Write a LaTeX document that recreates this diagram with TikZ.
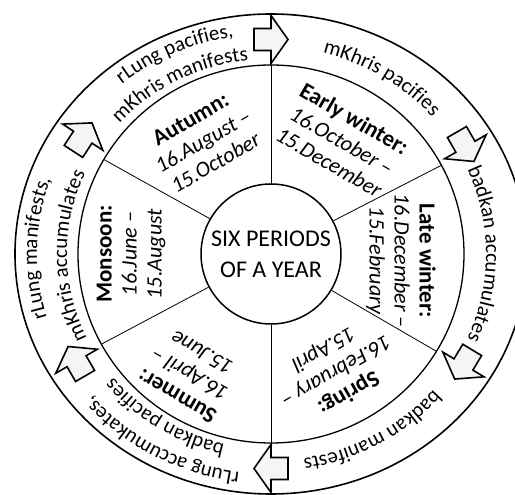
\documentclass[tikz,border=0pt]{standalone}
\usepackage{fontspec}
\setmainfont{Carlito}
\usetikzlibrary{decorations.text,calc}
\newcommand\ringfont{\fontsize{21}{25}\selectfont}
\newcommand\secfont{\fontsize{22}{25}\selectfont}
\newcommand\hd[1]{\textbf{\fontsize{23}{25}\selectfont #1}}
\begin{document}
\begin{tikzpicture}[x=1pt,y=1pt,
  spoke/.style={line width=0.8pt},
  arrowbox/.style={draw, line width=1.6pt, fill=gray!8, line join=miter},
  season/.style={align=center, font=\secfont, inner sep=0pt},
  core/.style={draw, circle, line width=1.5pt, minimum size=140pt, inner sep=0pt, align=center, font=\fontsize{24}{31}\selectfont},
  ringtext/.style={decorate, decoration={text along path, text align=center, text={#1}}}
]
\useasboundingbox (0,0) rectangle (515,495);
\coordinate (c) at (271,241);
\draw[line width=1.6pt] (c) ellipse [x radius=256, y radius=240];
\draw[line width=1.3pt] (c) ellipse [x radius=193, y radius=189];
\node[core] (core) at (c) {SIX PERIODS\\OF A YEAR};
\foreach \a/\n in {90/1,28/2,329/3,270/4,150/5,208.5/6} {
  \coordinate (m\n) at ([shift={(\a:193 and 189)}]c);
  \draw[spoke] (core.\a) -- (m\n);
}
% ring texts
\path[ringtext={|\ringfont|mKhris pacifies}] ([shift={(88.6:215 and 207)}]c) arc[start angle=88.6, end angle=28.6, x radius=215, y radius=207];
\path[ringtext={|\ringfont|badkan accumulates}] ([shift={(30:215 and 207)}]c) arc[start angle=30, end angle=-30, x radius=215, y radius=207];
\path[ringtext={|\ringfont|badkan manifests}] ([shift={(-31:215 and 207)}]c) arc[start angle=-31, end angle=-91, x radius=215, y radius=207];
\path[ringtext={|\ringfont|rLung accumukates,}] ([shift={(271:234 and 220)}]c) arc[start angle=271, end angle=211, x radius=234, y radius=220];
\path[ringtext={|\ringfont|badkan pacifies}] ([shift={(268:204 and 195)}]c) arc[start angle=268, end angle=208, x radius=204, y radius=195];
\path[ringtext={|\ringfont|rLung manifests,}] ([shift={(208.5:234 and 220)}]c) arc[start angle=208.5, end angle=148.5, x radius=234, y radius=220];
\path[ringtext={|\ringfont|mKhris accumulates}] ([shift={(210.5:204 and 195)}]c) arc[start angle=210.5, end angle=150.5, x radius=204, y radius=195];
\path[ringtext={|\ringfont|rLung pacifies,}] ([shift={(144.6:234 and 220)}]c) arc[start angle=144.6, end angle=84.6, x radius=234, y radius=220];
\path[ringtext={|\ringfont|mKhris manifests}] ([shift={(147.3:204 and 195)}]c) arc[start angle=147.3, end angle=87.3, x radius=204, y radius=195];
% seasons
\node[season, rotate=30] (autumn) at ([shift={(121:132)}]c) {\hd{Autumn:}\\\textit{16.August –}\\\textit{15.October}};
\node[season, rotate=-30] (earlywinter) at ([shift={(58:134)}]c) {\hd{Early winter:}\\\textit{16.October –}\\\textit{15.December}};
\node[season, rotate=-90] (latewinter) at ([shift={(-3:130)}]c) {\hd{Late winter:}\\\textit{16.December –}\\\textit{15.February}};
\node[season, rotate=-150] (spring) at ([shift={(-61:134)}]c) {\hd{Spring:}\\\textit{16.February –}\\\textit{15.April}};
\node[season, rotate=150] (summer) at ([shift={(236:146)}]c) {\hd{Summer:}\\\textit{16.April –}\\\textit{15.June}};
\node[season, rotate=90] (monsoon) at ([shift={(180:140)}]c) {\hd{Monsoon:}\\\textit{16.June –}\\\textit{15.August}};
% arrows
\foreach \a in {90,30,-31,-90,147,210} {
  \begin{scope}[shift={(c)}, shift={(\a:224.5 and 214.5)}, rotate=\a-90]
    \draw[arrowbox] (-17,-11) -- (0,-11) -- (0,-24) -- (17,0) -- (0,24) -- (0,11) -- (-17,11) -- cycle;
  \end{scope}
}
\end{tikzpicture}
\end{document}
